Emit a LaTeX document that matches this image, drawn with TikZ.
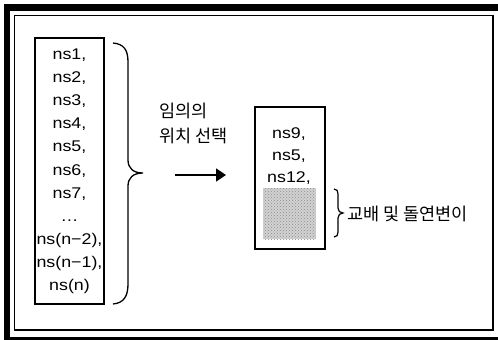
\documentclass[tikz,border=0pt]{standalone}
\usepackage{fontspec}
\setmainfont{Liberation Sans}[FakeStretch=1.15]
\newfontfamily\kor{Noto Sans CJK KR}
\usetikzlibrary{arrows.meta,patterns}

\begin{document}
\begin{tikzpicture}[x=1pt,y=-1pt,
	box/.style={draw, line width=1.1pt, inner sep=0pt},
	names/.style={align=center, font=\fontsize{15.5}{23.15}\selectfont, inner sep=0pt},
	kortext/.style={font=\kor\fontsize{17.5}{25}\selectfont, inner sep=0pt}]
	\useasboundingbox (0,0) rectangle (498,340);
	\clip (0,0) rectangle (498,340);
	\draw[line width=6.5pt] (7,7.5) rectangle (510,340);
	\draw[line width=1.5pt] (14.5,15.5) rectangle (493,330);

	\node[box, minimum width=69pt, minimum height=266pt] (pool) at (69.5,171) {};
	\node[names, anchor=north] (poolnames) at (69.5,48.5)
		{ns1,\\ns2,\\ns3,\\ns4,\\ns5,\\ns6,\\ns7,\\\ldots\\ns(n−2),\\ns(n−1),\\ns(n)};
	\draw[line width=1.3pt] (113,43) .. controls (124,44) and (128,50) .. (128,62) -- (128,160)
		.. controls (128,168) and (133,173) .. (143,173)
		.. controls (133,173) and (128,178) .. (128,186) -- (128,284)
		.. controls (128,296) and (124,303) .. (113,304);

	\node[kortext, anchor=base west] (pick) at (159,117) {임의의};
	\node[kortext, anchor=base west] (pickpos) at (159,142) {위치 선택};
	\coordinate (arrowtail) at (175,175);
	\coordinate (arrowhead) at (226,175);
	\draw[line width=1.6pt, -{Triangle[length=10pt,width=13pt]}] (arrowtail) -- (arrowhead);

	\node[box, minimum width=70pt, minimum height=142pt] (chosen) at (290,178) {};
	\node[names, anchor=north, font=\fontsize{15.5}{22}\selectfont] (chosennames) at (289,127.5)
		{ns9,\\ns5,\\ns12,};
	\node[inner sep=0pt, minimum width=53pt, minimum height=51pt, fill=gray!35,
		postaction={pattern=crosshatch dots, pattern color=gray!90}] (slot) at (289.5,213.5) {};
	\draw[line width=1.2pt] (334,189) .. controls (337,189) and (338,191) .. (338,194) -- (338,208)
		.. controls (338,211) and (340,213) .. (343,213)
		.. controls (340,213) and (338,215) .. (338,218) -- (338,232)
		.. controls (338,235) and (337,237) .. (334,237);
	\node[kortext, anchor=base west] (mutate) at (347,220) {교배 및 돌연변이};
\end{tikzpicture}
\end{document}
